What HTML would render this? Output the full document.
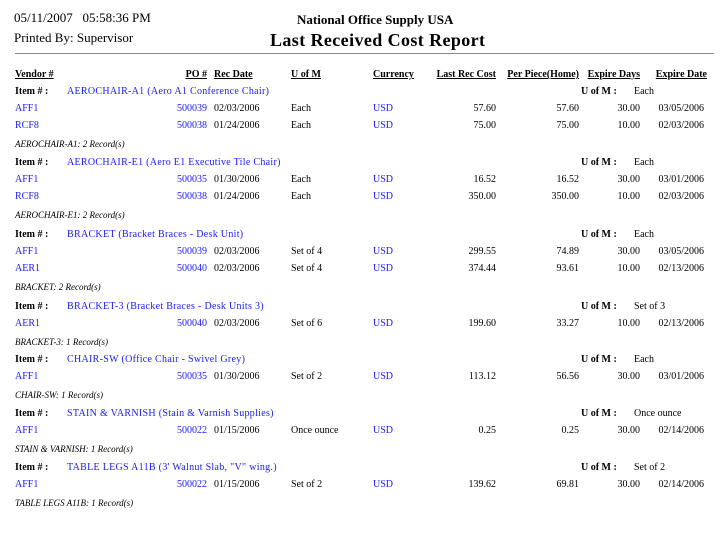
<!DOCTYPE html>
<html><head><meta charset="utf-8"><style>
body{margin:0;width:721px;height:536px;background:#fff;position:relative;overflow:hidden;font-family:"Liberation Serif",serif;color:#000}
div{position:absolute;white-space:nowrap;font-size:10px;line-height:14px}
.b{color:#1a1aff}.r{text-align:right}.h{font-weight:bold;text-decoration:underline}.i{font-style:italic}.bo{font-weight:bold}
</style></head><body>
<div style="left:14px;top:10px;font-size:13px;line-height:16px">05/11/2007&nbsp;&nbsp;&nbsp;05:58:36 PM</div>
<div style="left:14px;top:30px;font-size:13px;line-height:16px">Printed By: Supervisor</div>
<div style="left:297px;top:12px;font-size:13px;line-height:16px;font-weight:bold">National Office Supply USA</div>
<div style="left:270px;top:30px;font-size:18px;line-height:20px;font-weight:bold;letter-spacing:0.4px">Last Received Cost Report</div>
<div style="left:15px;top:53px;width:699px;height:0;border-top:1px solid #888"></div>
<div class="h" style="left:15px;top:68px">Vendor #</div>
<div class="h r" style="left:150px;width:57px;top:68px">PO #</div>
<div class="h" style="left:214px;top:68px">Rec Date</div>
<div class="h" style="left:291px;top:68px">U of M</div>
<div class="h" style="left:373px;top:68px">Currency</div>
<div class="h r" style="left:400px;width:96px;top:68px">Last Rec Cost</div>
<div class="h r" style="left:480px;width:99px;top:68px">Per Piece(Home)</div>
<div class="h r" style="left:560px;width:80px;top:68px">Expire Days</div>
<div class="h r" style="left:620px;width:87px;top:68px">Expire Date</div>
<div id="c"></div>
<script>
var g=[
[85,"AEROCHAIR-A1 (Aero A1 Conference Chair)","Each",[["AFF1","500039","02/03/2006","Each","57.60","57.60","30.00","03/05/2006"],["RCF8","500038","01/24/2006","Each","75.00","75.00","10.00","02/03/2006"]],"AEROCHAIR-A1: 2 Record(s)"],
[156,"AEROCHAIR-E1 (Aero E1 Executive Tile Chair)","Each",[["AFF1","500035","01/30/2006","Each","16.52","16.52","30.00","03/01/2006"],["RCF8","500038","01/24/2006","Each","350.00","350.00","10.00","02/03/2006"]],"AEROCHAIR-E1: 2 Record(s)"],
[228,"BRACKET (Bracket Braces - Desk Unit)","Each",[["AFF1","500039","02/03/2006","Set of 4","299.55","74.89","30.00","03/05/2006"],["AER1","500040","02/03/2006","Set of 4","374.44","93.61","10.00","02/13/2006"]],"BRACKET: 2 Record(s)"],
[300,"BRACKET-3 (Bracket Braces - Desk Units 3)","Set of 3",[["AER1","500040","02/03/2006","Set of 6","199.60","33.27","10.00","02/13/2006"]],"BRACKET-3: 1 Record(s)"],
[353,"CHAIR-SW (Office Chair - Swivel Grey)","Each",[["AFF1","500035","01/30/2006","Set of 2","113.12","56.56","30.00","03/01/2006"]],"CHAIR-SW: 1 Record(s)"],
[407,"STAIN &amp; VARNISH (Stain &amp; Varnish Supplies)","Once ounce",[["AFF1","500022","01/15/2006","Once ounce","0.25","0.25","30.00","02/14/2006"]],"STAIN &amp; VARNISH: 1 Record(s)"],
[461,"TABLE LEGS A11B (3' Walnut Slab, \"V\" wing.)","Set of 2",[["AFF1","500022","01/15/2006","Set of 2","139.62","69.81","30.00","02/14/2006"]],"TABLE LEGS A11B: 1 Record(s)"]];
var h="";
g.forEach(function(x){var y=x[0];
h+='<div class="bo" style="left:15px;top:'+y+'px">Item # :</div><div class="b" style="left:67px;top:'+y+'px;letter-spacing:0.3px">'+x[1]+'</div>';
h+='<div class="bo" style="left:581px;top:'+y+'px">U of M :</div><div style="left:634px;top:'+y+'px">'+x[2]+'</div>';
x[3].forEach(function(r,k){var t=y+17+k*17;
h+='<div class="b" style="left:15px;top:'+t+'px">'+r[0]+'</div><div class="b r" style="left:150px;width:57px;top:'+t+'px">'+r[1]+'</div><div style="left:214px;top:'+t+'px">'+r[2]+'</div><div style="left:291px;top:'+t+'px">'+r[3]+'</div><div class="b" style="left:373px;top:'+t+'px">USD</div><div class="r" style="left:400px;width:96px;top:'+t+'px">'+r[4]+'</div><div class="r" style="left:480px;width:99px;top:'+t+'px">'+r[5]+'</div><div class="r" style="left:560px;width:80px;top:'+t+'px">'+r[6]+'</div><div class="r" style="left:620px;width:84px;top:'+t+'px">'+r[7]+'</div>';});
var s=y+17+x[3].length*17+1;
h+='<div class="i" style="left:15px;top:'+s+'px;font-size:9px">'+x[4]+'</div>';});
document.getElementById("c").outerHTML=h;
</script>
</body></html>
